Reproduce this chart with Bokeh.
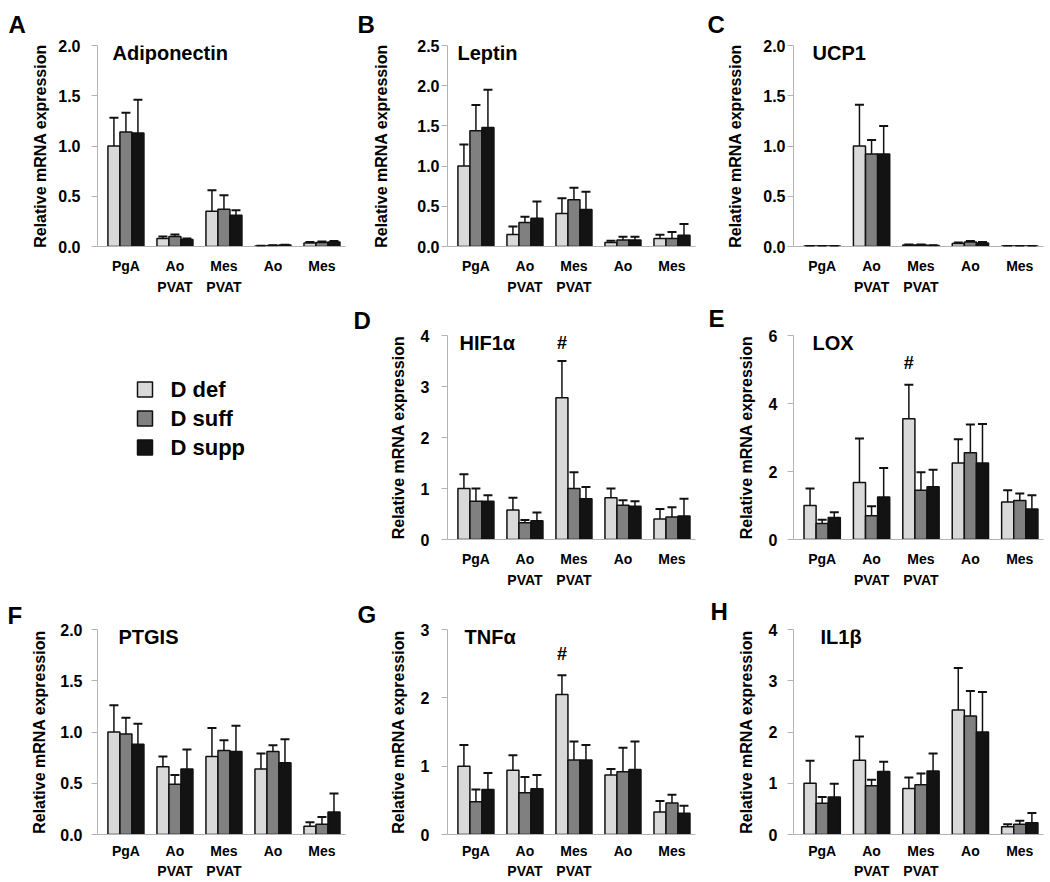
from bokeh.plotting import figure
from bokeh.models import (Range1d, FixedTicker, PrintfTickFormatter, LinearAxis,
                          Whisker, TeeHead, Label, ColumnDataSource)
from bokeh.transform import dodge
from bokeh.layouts import column, row
from bokeh.embed import file_html
from bokeh.resources import INLINE
from bokeh.core.properties import value

FONT = "Liberation Sans"

# ---------------- data ----------------
categories = ["PgA", "Ao PVAT", "Mes PVAT", "Ao", "Mes"]
category_line1 = ["PgA", "Ao", "Mes", "Ao", "Mes"]
category_line2 = ["", "PVAT", "PVAT", "", ""]
groups = ["D def", "D suff", "D supp"]
group_colors = ["#d9d9d9", "#808080", "#131313"]
y_label = "Relative mRNA expression"

# means per group (def, suff, supp) and upper SEM
adiponectin_mean = [[1.00, 0.08, 0.35, 0.005, 0.035],
                    [1.14, 0.10, 0.37, 0.010, 0.040],
                    [1.13, 0.07, 0.31, 0.015, 0.045]]
adiponectin_sem = [[0.28, 0.02, 0.21, 0.003, 0.010],
                   [0.19, 0.02, 0.14, 0.002, 0.010],
                   [0.33, 0.01, 0.05, 0.003, 0.010]]

leptin_mean = [[1.00, 0.15, 0.41, 0.05, 0.10],
               [1.44, 0.30, 0.58, 0.08, 0.10],
               [1.48, 0.35, 0.46, 0.08, 0.14]]
leptin_sem = [[0.27, 0.10, 0.19, 0.02, 0.045],
              [0.32, 0.07, 0.15, 0.04, 0.08],
              [0.47, 0.21, 0.22, 0.04, 0.14]]

ucp1_mean = [[0.004, 1.00, 0.015, 0.030, 0.004],
             [0.004, 0.92, 0.015, 0.045, 0.004],
             [0.004, 0.92, 0.010, 0.035, 0.004]]
ucp1_sem = [[0.001, 0.41, 0.005, 0.010, 0.001],
            [0.001, 0.14, 0.005, 0.010, 0.001],
            [0.001, 0.28, 0.002, 0.010, 0.001]]

hif1a_mean = [[1.00, 0.58, 2.78, 0.82, 0.40],
              [0.75, 0.33, 1.00, 0.67, 0.44],
              [0.75, 0.37, 0.80, 0.65, 0.46]]
hif1a_sem = [[0.28, 0.24, 0.72, 0.18, 0.20],
             [0.25, 0.05, 0.32, 0.10, 0.19],
             [0.12, 0.16, 0.23, 0.10, 0.34]]

lox_mean = [[1.00, 1.68, 3.55, 2.25, 1.10],
            [0.47, 0.70, 1.45, 2.55, 1.15],
            [0.65, 1.25, 1.55, 2.25, 0.90]]
lox_sem = [[0.50, 1.29, 1.00, 0.70, 0.35],
           [0.11, 0.28, 0.53, 0.83, 0.20],
           [0.15, 0.85, 0.50, 1.15, 0.40]]

ptgis_mean = [[1.00, 0.66, 0.76, 0.64, 0.08],
              [0.98, 0.49, 0.82, 0.81, 0.10],
              [0.88, 0.64, 0.81, 0.70, 0.22]]
ptgis_sem = [[0.26, 0.10, 0.28, 0.15, 0.04],
             [0.16, 0.09, 0.10, 0.06, 0.07],
             [0.20, 0.19, 0.25, 0.23, 0.18]]

tnfa_mean = [[1.00, 0.94, 2.05, 0.87, 0.33],
             [0.48, 0.61, 1.09, 0.92, 0.46],
             [0.66, 0.67, 1.09, 0.95, 0.31]]
tnfa_sem = [[0.31, 0.22, 0.28, 0.09, 0.16],
            [0.18, 0.23, 0.27, 0.35, 0.12],
            [0.24, 0.20, 0.22, 0.41, 0.11]]

il1b_mean = [[1.00, 1.45, 0.90, 2.43, 0.15],
             [0.61, 0.95, 0.97, 2.31, 0.20],
             [0.73, 1.23, 1.24, 2.00, 0.23]]
il1b_sem = [[0.44, 0.46, 0.21, 0.82, 0.05],
            [0.12, 0.12, 0.22, 0.49, 0.07],
            [0.26, 0.19, 0.34, 0.78, 0.19]]

ticks_half2 = [0.0, 0.5, 1.0, 1.5, 2.0]
ticks_half25 = [0.0, 0.5, 1.0, 1.5, 2.0, 2.5]
ticks_int3 = [0, 1, 2, 3]
ticks_int4 = [0, 1, 2, 3, 4]
ticks_even6 = [0, 2, 4, 6]

significance_category = "Mes PVAT"
hif1a_hash = 3.86
lox_hash = 5.2
tnfa_hash = 2.64

panels = {
    "A": dict(title="Adiponectin", mean=adiponectin_mean, sem=adiponectin_sem, ticks=ticks_half2, fmt="%.1f", hash=None),
    "B": dict(title="Leptin", mean=leptin_mean, sem=leptin_sem, ticks=ticks_half25, fmt="%.1f", hash=None),
    "C": dict(title="UCP1", mean=ucp1_mean, sem=ucp1_sem, ticks=ticks_half2, fmt="%.1f", hash=None),
    "D": dict(title="HIF1\u03b1", mean=hif1a_mean, sem=hif1a_sem, ticks=ticks_int4, fmt="%d", hash=hif1a_hash),
    "E": dict(title="LOX", mean=lox_mean, sem=lox_sem, ticks=ticks_even6, fmt="%d", hash=lox_hash),
    "F": dict(title="PTGIS", mean=ptgis_mean, sem=ptgis_sem, ticks=ticks_half2, fmt="%.1f", hash=None),
    "G": dict(title="TNF\u03b1", mean=tnfa_mean, sem=tnfa_sem, ticks=ticks_int3, fmt="%d", hash=tnfa_hash),
    "H": dict(title="IL1\u03b2", mean=il1b_mean, sem=il1b_sem, ticks=ticks_int4, fmt="%d", hash=None),
}

# category positions on the x scale (one unit per category)
cat_pos = [i + 0.5 for i in range(len(categories))]

# ---------------- layout (pixels) ----------------
col_width = [350, 354, 346]
col_border_left = [97, 97, 89]
col_frame_width = [248, 248, 250]
row_height = [298, 293, 291]
row_border_top = [43, 37, 36]
row_frame_height = [203, 204, 207]
row_xlabel_standoff = [(11, 2), (11, 2), (8, 1)]
# per panel: tick-label standoff, axis-label standoff, title dx, letter dx, letter standoff
style = {
    "A": (11, 6, 15, -89, 16),
    "B": (2, 24, 10, -90, 16),
    "C": (2, 16, 19, -86, 16),
    "D": (12, 11, 12, -94, 3),
    "E": (10, 11, 19, -85, 8),
    "F": (9, 9, 21, -90, 1),
    "G": (12, 11, 17, -90, 3),
    "H": (10, 11, 27, -83, 9),
}
grid_pos = {"A": (0, 0), "B": (0, 1), "C": (0, 2), "D": (1, 1), "E": (1, 2),
            "F": (2, 0), "G": (2, 1), "H": (2, 2)}

BAR_W = 0.245
offsets = [-BAR_W, 0.0, BAR_W]
AXIS_GRAY = "#b3b3b3"
EDGE = "#111111"


def style_x_axis(ax, labels, standoff):
    ax.ticker = FixedTicker(ticks=cat_pos)
    ax.major_label_overrides = dict(zip(cat_pos, labels))
    ax.axis_line_color = AXIS_GRAY
    ax.major_tick_line_color = None
    ax.minor_tick_line_color = None
    ax.major_tick_out = 0
    ax.major_tick_in = 0
    ax.minor_tick_out = 0
    ax.minor_tick_in = 0
    ax.axis_label_standoff = 0
    ax.major_label_text_font = FONT
    ax.major_label_text_font_style = "bold"
    ax.major_label_text_font_size = "14px"
    ax.major_label_text_color = "black"
    ax.major_label_standoff = standoff


def make_panel(letter):
    spec = panels[letter]
    r, c = grid_pos[letter]
    tick_sd, label_sd, title_dx, letter_dx, letter_sd = style[letter]
    w, h = col_width[c], row_height[r]
    ymax = spec["ticks"][-1]
    p = figure(width=w, height=h, title=letter,
               x_range=Range1d(-0.08, len(categories) - 0.02),
               y_range=Range1d(0, ymax),
               output_backend="svg", toolbar_location=None,
               min_border_left=col_border_left[c],
               min_border_right=w - col_border_left[c] - col_frame_width[c],
               min_border_top=row_border_top[r],
               min_border_bottom=h - row_border_top[r] - row_frame_height[r])
    p.outline_line_color = None
    p.grid.visible = False
    p.title.align = "left"
    p.title.offset = letter_dx
    p.title.standoff = letter_sd
    p.title.vertical_align = "bottom"
    p.title.text_font = FONT
    p.title.text_font_style = "bold"
    p.title.text_font_size = "24px"
    p.title.text_color = "black"

    data = dict(x=cat_pos, cat=categories)
    for gi in range(3):
        data[f"m{gi}"] = spec["mean"][gi]
        data[f"u{gi}"] = [m + s for m, s in zip(spec["mean"][gi], spec["sem"][gi])]
    src = ColumnDataSource(data)

    for gi in range(3):
        p.vbar(x=dodge("x", offsets[gi]), top=f"m{gi}", width=BAR_W,
               source=src, fill_color=group_colors[gi], line_color=EDGE, line_width=1.5)
        wk = Whisker(source=src, base=dodge("x", offsets[gi]),
                     lower=f"m{gi}", upper=f"u{gi}", dimension="height",
                     line_color=EDGE, line_width=1.5, level="overlay",
                     upper_head=TeeHead(size=9, line_color=EDGE, line_width=2),
                     lower_head=None)
        p.add_layout(wk)

    if spec["hash"] is not None:
        hx = cat_pos[categories.index(significance_category)]
        hsrc = ColumnDataSource(dict(x=[hx], y=[spec["hash"]], t=["#"]))
        p.text(x=dodge("x", offsets[0]), y="y", text="t", source=hsrc,
               text_font=value(FONT), text_font_style="bold", text_font_size="18px",
               text_align="center", text_baseline="middle", text_color="black")

    # x axes: two label lines
    sd1, sd2 = row_xlabel_standoff[r]
    style_x_axis(p.xaxis[0], category_line1, sd1)
    ax2 = LinearAxis()
    style_x_axis(ax2, category_line2, sd2)
    ax2.axis_line_color = None
    p.add_layout(ax2, "below")

    ya = p.yaxis[0]
    ya.ticker = FixedTicker(ticks=spec["ticks"])
    ya.formatter = PrintfTickFormatter(format=spec["fmt"])
    ya.axis_line_color = AXIS_GRAY
    ya.major_tick_line_color = AXIS_GRAY
    ya.major_tick_out = 6
    ya.major_tick_in = 0
    ya.minor_tick_line_color = None
    ya.major_label_text_font = FONT
    ya.major_label_text_font_style = "bold"
    ya.major_label_text_font_size = "16px"
    ya.major_label_text_color = "black"
    ya.major_label_standoff = tick_sd
    ya.axis_label = y_label
    ya.axis_label_text_font = FONT
    ya.axis_label_text_font_style = "bold"
    ya.axis_label_text_font_size = "16px"
    ya.axis_label_text_color = "black"
    ya.axis_label_standoff = label_sd

    p.add_layout(Label(x=-0.08, y=ymax, x_offset=title_dx, y_offset=-7, text=spec["title"],
                       text_font=FONT, text_font_style="bold", text_font_size="20px",
                       text_baseline="middle", text_align="left", text_color="black"))
    return p


# legend (drawn in its own cell; coordinates are pixels of that cell's frame, y downwards)
legend_box_x = 144.5
legend_text_x = 170
legend_row_y0 = 54
legend_row_step = 29
legend_box = 15


def make_legend():
    w, h = col_width[0], row_height[1]
    fh = row_frame_height[1]
    p = figure(width=w, height=h, output_backend="svg", toolbar_location=None,
               x_range=Range1d(0, w), y_range=Range1d(fh, 0),
               x_axis_location=None, y_axis_location=None,
               min_border_left=0, min_border_right=0,
               min_border_top=row_border_top[1], min_border_bottom=h - row_border_top[1] - fh)
    p.outline_line_color = None
    p.grid.visible = False
    ys = [legend_row_y0 + i * legend_row_step for i in range(len(groups))]
    src = ColumnDataSource(dict(x=[legend_box_x] * len(groups), tx=[legend_text_x] * len(groups),
                                y=ys, label=groups, color=group_colors))
    p.rect(x="x", y="y", width=legend_box, height=legend_box, source=src,
           fill_color="color", line_color=EDGE, line_width=1.5)
    p.text(x="tx", y="y", text="label", source=src, text_font=value(FONT),
           text_font_style="bold", text_font_size="22px", text_baseline="middle",
           text_align="left", text_color="black")
    return p


pA, pB, pC, pD, pE, pF, pG, pH = [make_panel(k) for k in "ABCDEFGH"]
layout = column(row(pA, pB, pC), row(make_legend(), pD, pE), row(pF, pG, pH))

open("out.html", "w").write(file_html(layout, INLINE))
